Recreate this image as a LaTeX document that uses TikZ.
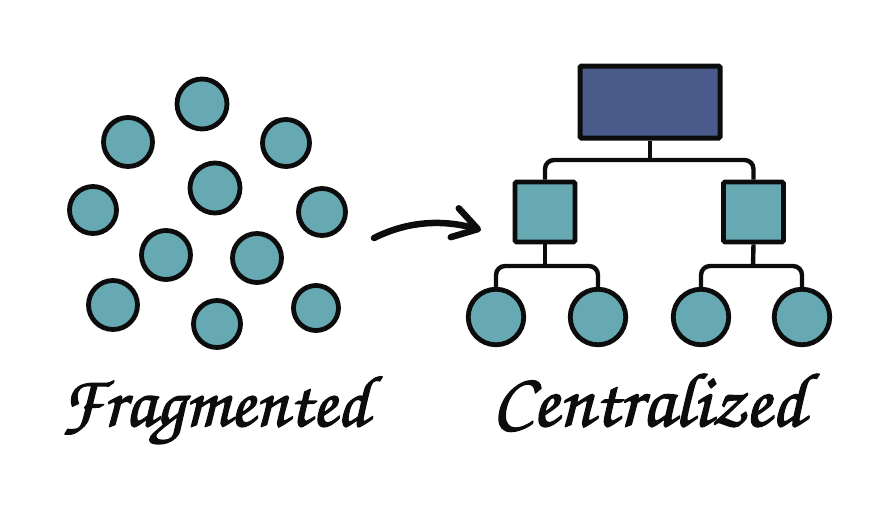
\documentclass[tikz,border=0pt]{standalone}
\usepackage[T1]{fontenc}
\usepackage{xcolor}
\usetikzlibrary{positioning, arrows.meta}
\definecolor{tealfill}{HTML}{66A9B3}
\definecolor{navyfill}{HTML}{4A5A8A}
\definecolor{inkline}{HTML}{0C0C0C}
\newcommand{\inked}[1]{\special{pdf:code q 2 Tr 1.3 w 1 J 1 j}#1\special{pdf:code Q}}
\tikzset{
  dot/.style={circle,draw=inkline,fill=tealfill,line width=4.8pt,inner sep=0pt,minimum size=#1},
  dot/.default=55.5pt,
  subbox/.style={rectangle,draw=inkline,fill=tealfill,line width=4.8pt,rounded corners=1.5pt,inner sep=0pt,minimum size=60pt},
  rootbox/.style={rectangle,draw=inkline,fill=navyfill,line width=5pt,rounded corners=1.5pt,inner sep=0pt,minimum width=140pt,minimum height=72pt},
  link/.style={draw=inkline,line width=4.4pt,rounded corners=9pt},
  hand/.style={text=inkline,inner sep=0pt,anchor=base,font=\fontfamily{pzc}\fontseries{m}\fontshape{it}\fontsize{#1}{#1}\selectfont},
}
\begin{document}
\begin{tikzpicture}[x=1pt,y=-1pt]
      \useasboundingbox(0,0)rectangle(894,512);
      %fragmented side
      \foreach \name/\px/\py/\size in {a/202/104/50pt,b/128/142/49pt,c/286/143/47pt,d/93/210/47pt,e/215/188/50pt,f/322/212/47pt,g/166/255/49pt,h/257/258/49pt,i/113/305/49pt,j/217/324/47pt,k/316/308/45pt}
        \node[dot=\size](\name)at(\px,\py){};
      %centralized side
      \node[rootbox](root)at(650,102){};
      \node[subbox](subL)at(545,212){};
      \node[subbox](subR)at(753.5,212){};
      \node[dot](leafA)at(496,317){};
      \node[dot](leafB)at(598,317){};
      \node[dot](leafC)at(701,317){};
      \node[dot](leafD)at(802,317){};
      \coordinate(busT)at(650,160);
      \coordinate(busL)at(545,266);
      \coordinate(busR)at(753,266);
      \draw[link](root.south)--(busT);
      \draw[link](subL.north)|-(busT)-|(subR.north);
      \draw[link](subL.south)--(busL);
      \draw[link](leafA.north)|-(busL)-|(leafB.north);
      \draw[link](subR.south)--(busR);
      \draw[link](leafC.north)|-(busR)-|(leafD.north);
      %arrow
      \coordinate(from)at(374,238);
      \coordinate(to)at(481,230);
      \draw[draw=inkline,line width=6.5pt,line cap=round,-{Straight Barb[length=24pt,width=30pt,round]}](from)..controls(410,220)and(445,220)..(to);
      %labels
      \node[hand=73](fragLabel)at(214.5,426){\inked{Fragmented}};
      \node[hand=77](centLabel)at(648.5,426){\inked{Centralized}};
    \end{tikzpicture}
\end{document}
